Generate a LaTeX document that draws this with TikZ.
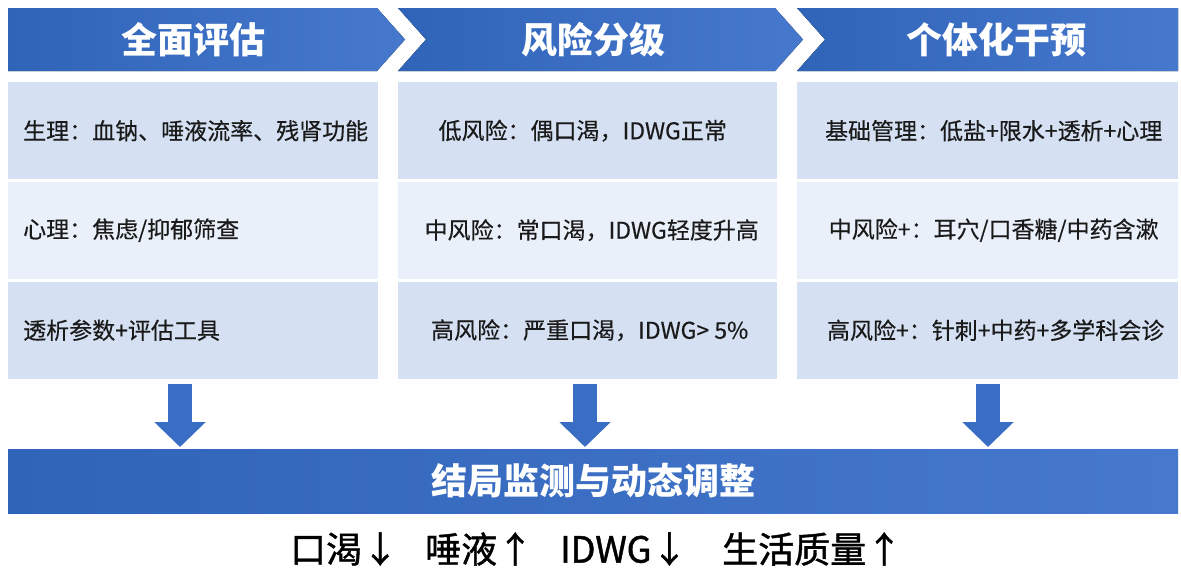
\documentclass[tikz,border=0pt]{standalone}
\usepackage{fontspec}
\setmainfont{Noto Sans CJK SC}
\newfontfamily\outfont{Noto Sans CJK SC}[FakeBold=1.2]
\newfontfamily\cellfont{Noto Sans CJK SC}[FakeBold=0.4]
\usetikzlibrary{arrows.meta}
\definecolor{hl}{HTML}{3064B9}
\definecolor{hr}{HTML}{4679CD}
\definecolor{rowa}{HTML}{D5E1F3}
\definecolor{rowb}{HTML}{EAF0FA}
\definecolor{arr}{HTML}{3A6EC4}
\definecolor{txt}{HTML}{1A1A1A}
\begin{document}
\begin{tikzpicture}[x=1pt,y=-1pt,
  hdr/.style={left color=hl, right color=hr, draw=none},
  hdrtext/.style={text=white, font=\fontsize{36}{40}\selectfont\bfseries, inner sep=0},
  cellbox/.style={draw=none, inner sep=0, anchor=north west, minimum height=97pt},
  cella/.style={cellbox, fill=rowa},
  cellb/.style={cellbox, fill=rowb},
  celltext/.style={text=txt, font=\cellfont\fontsize{23}{26}\selectfont, inner sep=0},
  bigarrow/.style={draw=arr, line width=24pt, -{Triangle[width=50pt,length=25pt]}},
  bottomtext/.style={text=black, font=\outfont\fontsize{36}{40}\selectfont, inner sep=0, anchor=west}
]
\useasboundingbox (0,0) rectangle (1181,574);

% headers (chevrons)
\fill[hdr] (8,8) -- (377,8) -- (405,39.5) -- (377,71) -- (8,71) -- cycle;
\fill[hdr] (398,8) -- (775,8) -- (803,39.5) -- (775,71) -- (398,71) -- (426,39.5) -- cycle;
\fill[hdr] (797,8) -- (1178,8) -- (1178,71) -- (797,71) -- (825,39.5) -- cycle;
\node[hdrtext] (h1) at (193,40) {全面评估};
\node[hdrtext] (h2) at (593,40) {风险分级};
\node[hdrtext] (h3) at (996,40) {个体化干预};

% column 1
\node[cella, minimum width=370pt] (c11) at (8,82) {};
\node[cellb, minimum width=370pt] (c12) at (8,181.5) {};
\node[cella, minimum width=370pt] (c13) at (8,281.5) {};
% column 2
\node[cella, minimum width=379pt] (c21) at (398,82) {};
\node[cellb, minimum width=379pt] (c22) at (398,181.5) {};
\node[cella, minimum width=379pt] (c23) at (398,281.5) {};
% column 3
\node[cella, minimum width=381pt] (c31) at (797,82) {};
\node[cellb, minimum width=381pt] (c32) at (797,181.5) {};
\node[cella, minimum width=381pt] (c33) at (797,281.5) {};

\node[celltext, anchor=west] (t11) at ([xshift=15pt]c11.west) {生理：血钠、唾液流率、残肾功能};
\node[celltext, anchor=west] (t12) at ([xshift=15pt]c12.west) {心理：焦虑/抑郁筛查};
\node[celltext, anchor=west] (t13) at ([xshift=15pt]c13.west) {透析参数+评估工具};
\node[celltext] (t21) at ([xshift=-5pt]c21.center) {低风险：偶口渴，IDWG正常};
\node[celltext] (t22) at ([xshift=4pt]c22.center) {中风险：常口渴，IDWG轻度升高};
\node[celltext] (t23) at ([xshift=2pt]c23.center) {高风险：严重口渴，IDWG> 5\%};
\node[celltext] (t31) at ([xshift=6pt]c31.center) {基础管理：低盐+限水+透析+心理};
\node[celltext] (t32) at ([xshift=6pt]c32.center) {中风险+：耳穴/口香糖/中药含漱};
\node[celltext] (t33) at ([xshift=8pt]c33.center) {高风险+：针刺+中药+多学科会诊};

% bottom bar
\node[draw=none, left color=hl, right color=hr, inner sep=0, anchor=north west,
      minimum width=1170pt, minimum height=64pt] (bar) at (8,449) {};
\node[hdrtext] (bt) at (593,481) {结局监测与动态调整};

% arrows
\coordinate (ax1) at (180,0);
\coordinate (ax2) at (585,0);
\coordinate (ax3) at (988,0);
\draw[bigarrow, shorten <=5pt, shorten >=2pt] (c13.south -| ax1) -- (bar.north -| ax1);
\draw[bigarrow, shorten <=5pt, shorten >=2pt] (c23.south -| ax2) -- (bar.north -| ax2);
\draw[bigarrow, shorten <=5pt, shorten >=2pt] (c33.south -| ax3) -- (bar.north -| ax3);

% outcomes
\node[bottomtext] (o1) at (290,549) {口渴↓};
\node[bottomtext] (o2) at (425,549) {唾液↑};
\node[bottomtext] (o3) at (560,549) {IDWG↓};
\node[bottomtext] (o4) at (722,549) {生活质量↑};
\end{tikzpicture}
\end{document}
